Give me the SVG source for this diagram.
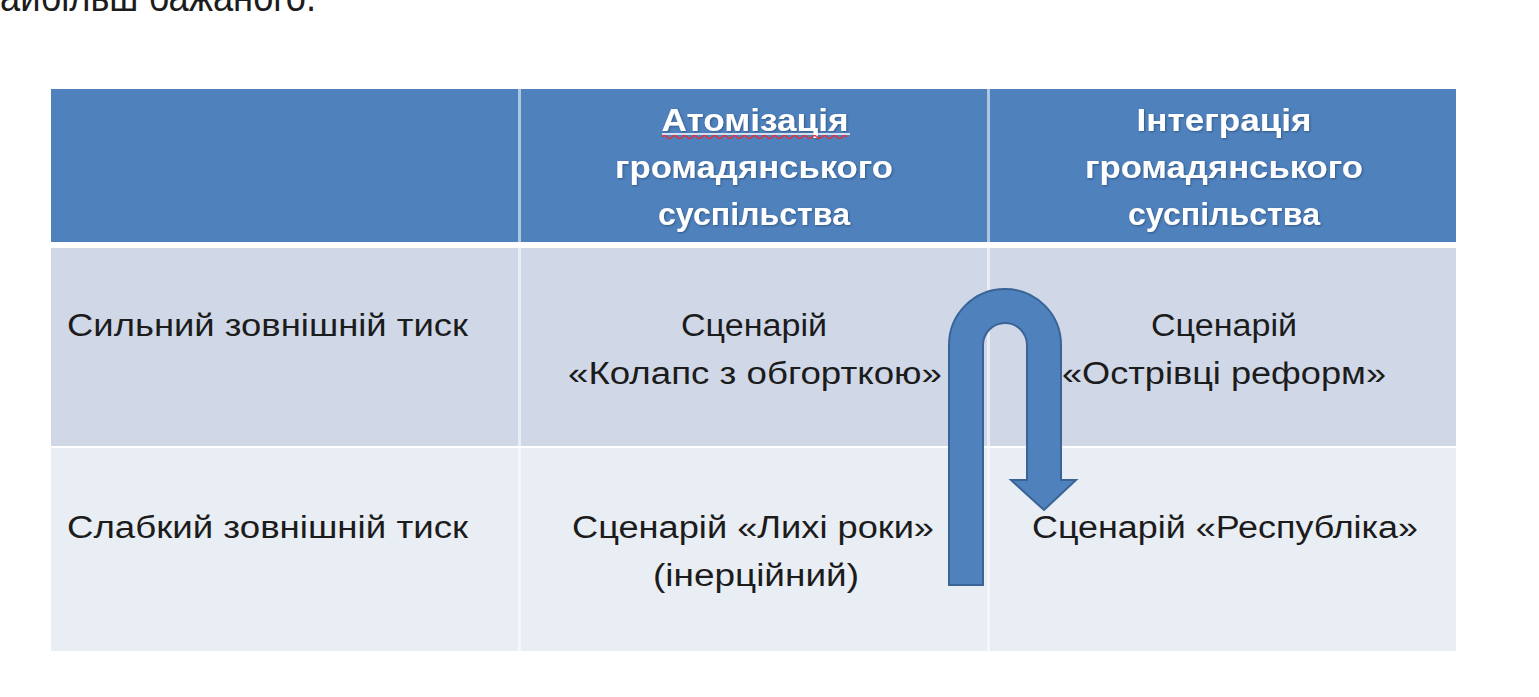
<svg xmlns="http://www.w3.org/2000/svg" width="1539" height="697" viewBox="0 0 1539 697">
<style>
.t{font-family:"Liberation Sans",Arial,sans-serif;font-size:31px;fill:#1c1c1c}
.h{font-family:"Liberation Sans",Arial,sans-serif;font-size:31px;font-weight:bold;fill:#ffffff}
.c{text-anchor:middle}
.hdr{fill:#4f81bd}
.r1{fill:#d0d8e8}
.r2{fill:#e9edf4}
</style>
<defs>
<filter id="sh" x="-5%" y="-20%" width="110%" height="140%">
<feDropShadow dx="1" dy="1" stdDeviation="0.8" flood-color="#1f3a5f" flood-opacity="0.6"/>
</filter>
</defs>
<rect width="1539" height="697" fill="#ffffff"/>
<text class="t" x="-20" y="11" style="font-size:40px" fill="#000" textLength="336" lengthAdjust="spacingAndGlyphs">найбільш бажаного.</text>

<g id="table">
<rect class="hdr" x="51" y="89" width="1405" height="153"/>
<rect class="r1" x="51" y="248" width="1405" height="198"/>
<rect class="r2" x="51" y="448" width="1405" height="203"/>
<rect x="518" y="89" width="3" height="562" fill="#ffffff" opacity="0.55"/>
<rect x="987" y="89" width="3" height="562" fill="#ffffff" opacity="0.55"/>
</g>

<g id="hdr-col2" filter="url(#sh)">
<text class="h c" x="755" y="131" textLength="187" lengthAdjust="spacingAndGlyphs">Атомізація</text>
<text class="h c" x="754" y="178" textLength="278" lengthAdjust="spacingAndGlyphs">громадянського</text>
<text class="h c" x="754" y="225" textLength="192" lengthAdjust="spacingAndGlyphs">суспільства</text>
</g>
<path d="M662 137 q2.5 -3 5 0 t5 0 t5 0 t5 0 t5 0 t5 0 t5 0 t5 0 t5 0 t5 0 t5 0 t5 0 t5 0 t5 0 t5 0 t5 0 t5 0 t5 0 t5 0 t5 0 t5 0 t5 0 t5 0 t5 0 t5 0 t5 0 t5 0 t5 0 t5 0 t5 0 t5 0 t5 0 t5 0 t5 0 t5 0 t5 0 t5 0" fill="none" stroke="#e0303a" stroke-width="1.5"/>
<line x1="662" y1="134" x2="850" y2="134" stroke="#ffffff" stroke-width="1.5"/>
<g id="hdr-col3" filter="url(#sh)">
<text class="h c" x="1224" y="131" textLength="175" lengthAdjust="spacingAndGlyphs">Інтеграція</text>
<text class="h c" x="1224" y="178" textLength="278" lengthAdjust="spacingAndGlyphs">громадянського</text>
<text class="h c" x="1224" y="225" textLength="192" lengthAdjust="spacingAndGlyphs">суспільства</text>
</g>

<g id="row1-label"><text class="t" x="67" y="336" textLength="401" lengthAdjust="spacingAndGlyphs">Сильний зовнішній тиск</text></g>
<g id="row1-col2">
<text class="t c" x="754" y="336" textLength="146" lengthAdjust="spacingAndGlyphs">Сценарій</text>
<text class="t c" x="755" y="384" textLength="374" lengthAdjust="spacingAndGlyphs">«Колапс з обгорткою»</text>
</g>
<g id="row1-col3">
<text class="t c" x="1224" y="336" textLength="146" lengthAdjust="spacingAndGlyphs">Сценарій</text>
<text class="t c" x="1224" y="384" textLength="324" lengthAdjust="spacingAndGlyphs">«Острівці реформ»</text>
</g>

<g id="row2-label"><text class="t" x="67" y="538" textLength="401" lengthAdjust="spacingAndGlyphs">Слабкий зовнішній тиск</text></g>
<g id="row2-col2">
<text class="t c" x="753" y="538" textLength="362" lengthAdjust="spacingAndGlyphs">Сценарій «Лихі роки»</text>
<text class="t c" x="756" y="586" textLength="206" lengthAdjust="spacingAndGlyphs">(інерційний)</text>
</g>
<g id="row2-col3">
<text class="t c" x="1225" y="538" textLength="386" lengthAdjust="spacingAndGlyphs">Сценарій «Республіка»</text>
</g>

<g id="connectors">
<path id="uturn-arrow" d="M949 585 L949 345 A56 56 0 0 1 1061 345 L1061 480 L1076 480 L1044 510 L1011 480 L1027 480 L1027 345 A22 22 0 0 0 983 345 L983 585 Z" fill="#4f81bd" stroke="#3a6496" stroke-width="2" stroke-linejoin="miter"/>
</g>
</svg>
